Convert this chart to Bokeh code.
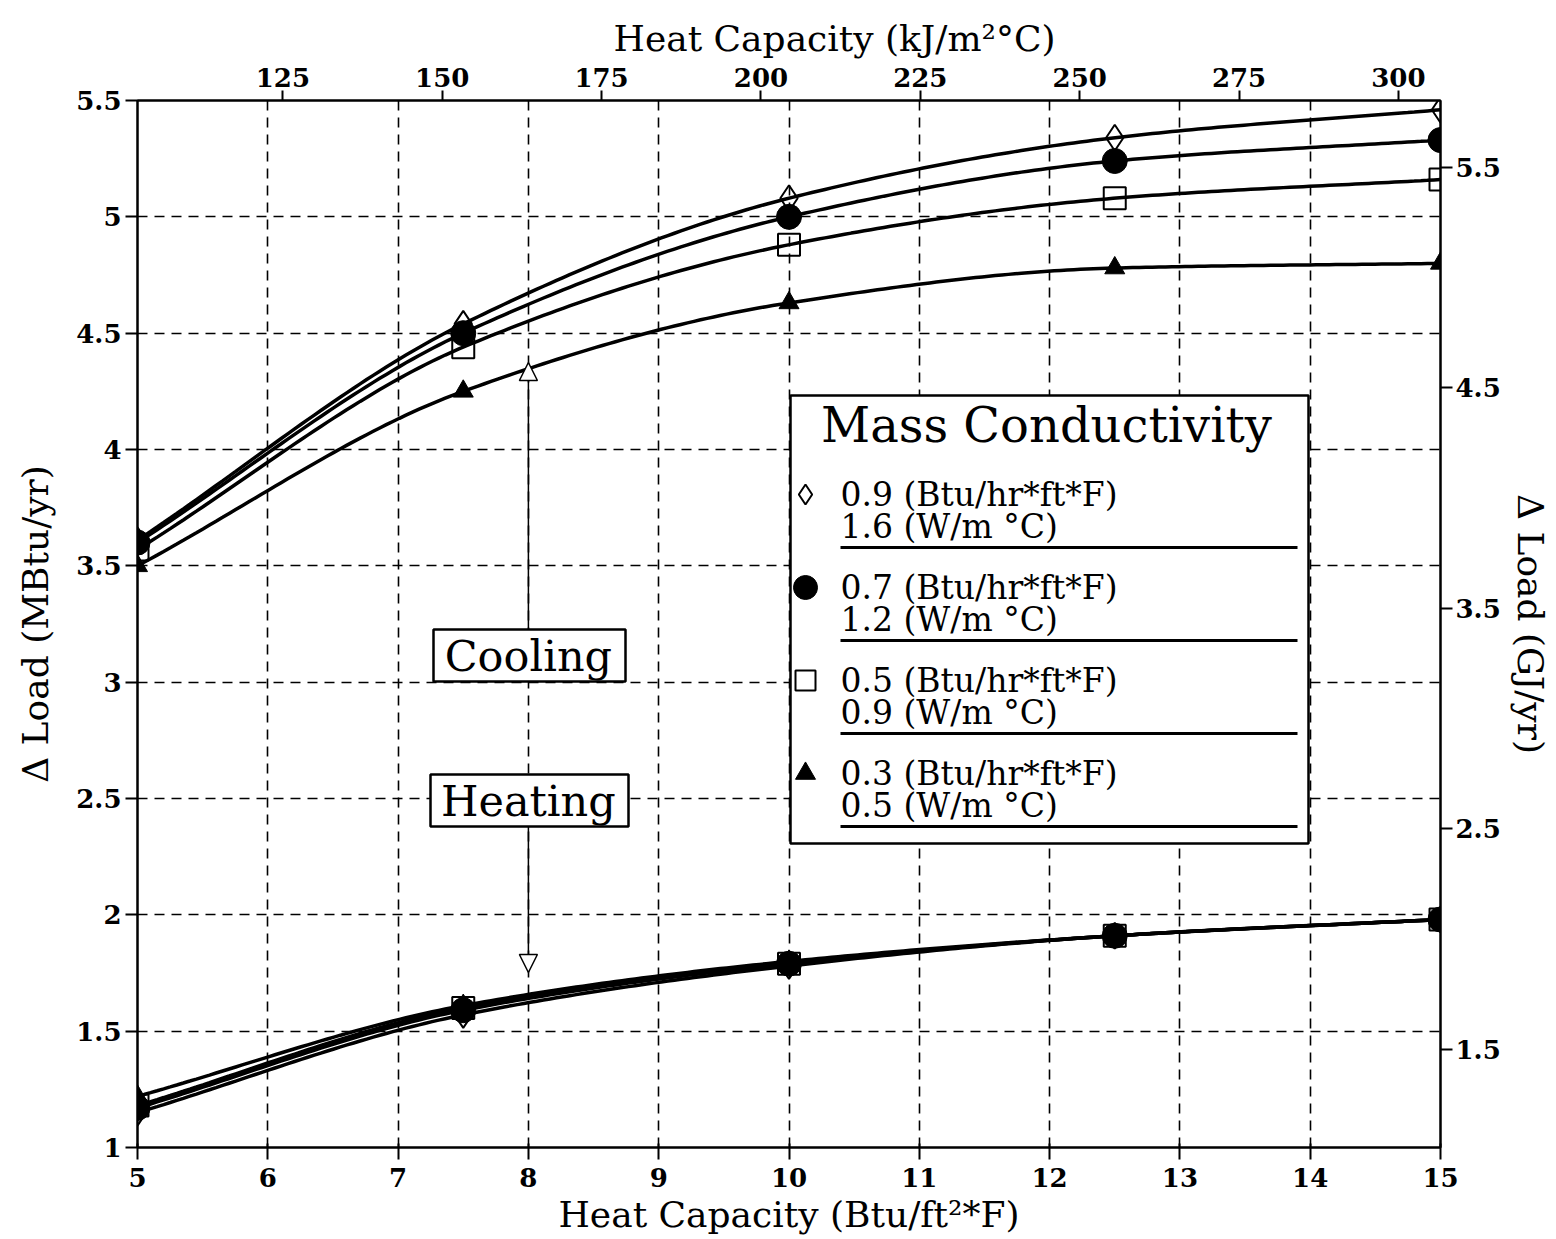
import numpy as np
from bokeh.plotting import figure
from bokeh.models import (Range1d, LinearAxis, FixedTicker, BoxAnnotation, Label,
                          Arrow, NormalHead, Title)
from bokeh.embed import file_html
from bokeh.resources import INLINE

# ---------------- data ----------------
heat_cap = [5, 7.5, 10, 12.5, 15]          # Btu/ft2*F
series_names = ["0.9", "0.7", "0.5", "0.3"]
series_si = ["1.6", "1.2", "0.9", "0.5"]
cool_09 = [3.61, 4.54, 5.08, 5.34, 5.46]
cool_07 = [3.60, 4.50, 5.00, 5.24, 5.33]
cool_05 = [3.57, 4.44, 4.88, 5.08, 5.16]
cool_03 = [3.50, 4.25, 4.63, 4.78, 4.80]
heat_09 = [1.15, 1.57, 1.78, 1.91, 1.98]
heat_07 = [1.17, 1.59, 1.79, 1.91, 1.98]
heat_05 = [1.18, 1.60, 1.79, 1.91, 1.98]
heat_03 = [1.22, 1.61, 1.80, 1.91, 1.98]

x_ticks = [5, 6, 7, 8, 9, 10, 11, 12, 13, 14, 15]
y_ticks = [1, 1.5, 2, 2.5, 3, 3.5, 4, 4.5, 5, 5.5]
y_tick_labels = ["1", "1.5", "2", "2.5", "3", "3.5", "4", "4.5", "5", "5.5"]
top_ticks = [125, 150, 175, 200, 225, 250, 275, 300]
right_ticks = [1.5, 2.5, 3.5, 4.5, 5.5]
KJ_PER_BTUFT2F = 20.44
GJ_PER_MBTU = 1.055

# ---------------- layout ----------------
W, H = 1556, 1239
FL, FR, FT, FB = 137, 116, 100, 92
XMIN, XMAX, YMIN, YMAX = 5, 15, 1, 5.5
fw, fh = W - FL - FR, H - FT - FB

def px2x(px):
    return XMIN + (px - FL) / fw * (XMAX - XMIN)

def px2y(py):
    return YMAX - (py - FT) / fh * (YMAX - YMIN)

def smooth(xs, ys, n=200):
    """Monotone cubic (Fritsch-Carlson) curve through the data points."""
    xs = np.asarray(xs, float); ys = np.asarray(ys, float)
    h = np.diff(xs); d = np.diff(ys) / h
    m = np.zeros_like(ys)
    m[0], m[-1] = d[0], d[-1]
    for i in range(1, len(xs) - 1):
        if d[i - 1] * d[i] <= 0:
            m[i] = 0
        else:
            w1 = 2 * h[i] + h[i - 1]; w2 = h[i] + 2 * h[i - 1]
            m[i] = (w1 + w2) / (w1 / d[i - 1] + w2 / d[i])
    xf = np.linspace(xs[0], xs[-1], n)
    idx = np.clip(np.searchsorted(xs, xf) - 1, 0, len(xs) - 2)
    t = (xf - xs[idx]) / h[idx]
    h00 = 2 * t**3 - 3 * t**2 + 1; h10 = t**3 - 2 * t**2 + t
    h01 = -2 * t**3 + 3 * t**2; h11 = t**3 - t**2
    yf = h00 * ys[idx] + h10 * h[idx] * m[idx] + h01 * ys[idx + 1] + h11 * h[idx] * m[idx + 1]
    return xf, yf

SERIF = "DejaVu Serif"

p = figure(width=W, height=H, output_backend="svg", toolbar_location=None,
           x_range=Range1d(XMIN, XMAX), y_range=Range1d(YMIN, YMAX),
           min_border_left=FL, min_border_right=FR, min_border_top=FT,
           min_border_bottom=FB, x_axis_location=None, y_axis_location=None)
p.background_fill_color = "white"
p.border_fill_color = "white"
p.outline_line_color = "black"
p.outline_line_width = 2

p.extra_x_ranges = {"si": Range1d(XMIN * KJ_PER_BTUFT2F, XMAX * KJ_PER_BTUFT2F)}
p.extra_y_ranges = {"gj": Range1d(YMIN * GJ_PER_MBTU, YMAX * GJ_PER_MBTU)}

def style_axis(ax, tin, tout, standoff, label_standoff):
    ax.axis_line_color = "black"
    ax.axis_line_width = 2
    ax.major_tick_line_color = "black"
    ax.major_tick_line_width = 2
    ax.major_tick_in = tin
    ax.major_tick_out = tout
    ax.minor_tick_line_color = None
    ax.major_label_text_font = SERIF
    ax.major_label_text_font_style = "bold"
    ax.major_label_text_font_size = "26px"
    ax.major_label_text_color = "black"
    ax.major_label_standoff = standoff
    ax.axis_label_text_font = SERIF
    ax.axis_label_text_font_style = "normal"
    ax.axis_label_text_font_size = "36px"
    ax.axis_label_text_color = "black"
    ax.axis_label_standoff = label_standoff

bottom = LinearAxis(ticker=FixedTicker(ticks=x_ticks),
                    axis_label="Heat Capacity (Btu/ft²*F)")
style_axis(bottom, 4, 12, 8, 4)
p.add_layout(bottom, "below")

left = LinearAxis(ticker=FixedTicker(ticks=y_ticks), axis_label="Δ Load (MBtu/yr)")
left.major_label_overrides = {t: l for t, l in zip(y_ticks, y_tick_labels)}
style_axis(left, 0, 12, 4, 17)
p.add_layout(left, "left")

top = LinearAxis(x_range_name="si", ticker=FixedTicker(ticks=top_ticks))
style_axis(top, 0, 10, 4, 8)
p.add_layout(top, "above")

right = LinearAxis(y_range_name="gj", ticker=FixedTicker(ticks=right_ticks),
                   axis_label="Δ Load (GJ/yr)")
style_axis(right, 0, 12, 3, 6)
p.add_layout(right, "right")

# top axis title sits right of the frame centre in the reference
top_title = Title(text="Heat Capacity (kJ/m²°C)", align="left", offset=476,
                  text_font=SERIF, text_font_size="36px", text_font_style="normal",
                  text_color="black", standoff=11)
p.add_layout(top_title, "above")

for g in (p.xgrid, p.ygrid):
    g.grid_line_color = "black"
    g.grid_line_width = 1.6
    g.grid_line_dash = "10 7"
p.xgrid.ticker = FixedTicker(ticks=x_ticks[1:-1])
p.ygrid.ticker = FixedTicker(ticks=y_ticks[1:-1])

# ---------------- boxes (under glyphs, over grid) ----------------
def white_box(l, r, t, b):
    return BoxAnnotation(left=px2x(l), right=px2x(r), top=px2y(t), bottom=px2y(b),
                         fill_color="white", fill_alpha=1, line_color="black",
                         line_alpha=1, line_width=2.5, level="underlay")

p.add_layout(white_box(790, 1308, 395, 843))
p.add_layout(white_box(433, 625, 629, 681))
p.add_layout(white_box(430, 628, 774, 826))

# ---------------- curves ----------------
cool_all = [cool_09, cool_07, cool_05, cool_03]
heat_all = [heat_09, heat_07, heat_05, heat_03]
for ys in cool_all + heat_all:
    xf, yf = smooth(heat_cap, ys)
    p.line(xf, yf, line_color="black", line_width=3.5)

markers = [
    dict(marker="diamond", size=26, fill_alpha=0, line_width=2),
    dict(marker="circle", size=25, fill_color="black", line_width=1),
    dict(marker="square", size=22, fill_alpha=0, line_width=2),
    dict(marker="triangle", size=20, fill_color="black", line_width=1),
]
for cs, hs, mk in zip(cool_all, heat_all, markers):
    p.scatter(heat_cap, cs, line_color="black", **mk)
    p.scatter(heat_cap, hs, line_color="black", **mk)

# ---------------- legend ----------------
p.add_layout(Label(x=px2x(1046), y=px2y(424), text="Mass Conductivity",
                   text_font=SERIF, text_font_size="48px", text_align="center",
                   text_baseline="middle", text_color="black"))
legend_rows = [494, 587, 680, 773]
leg_markers = [
    dict(marker="diamond", size=20, fill_alpha=0, line_width=2),
    dict(marker="circle", size=24, fill_color="black", line_width=1),
    dict(marker="square", size=20, fill_alpha=0, line_width=2),
    dict(marker="triangle", size=20, fill_color="black", line_width=1),
]
for row, name, si, mk in zip(legend_rows, series_names, series_si, leg_markers):
    p.scatter([px2x(805)], [px2y(row)], line_color="black", **mk)
    p.add_layout(Label(x=px2x(840), y=px2y(row), text=f"{name} (Btu/hr*ft*F)",
                       text_font=SERIF, text_font_size="33px", text_align="left",
                       text_baseline="middle", text_color="black"))
    p.add_layout(Label(x=px2x(840), y=px2y(row + 32), text=f"{si} (W/m °C)",
                       text_font=SERIF, text_font_size="33px", text_align="left",
                       text_baseline="middle", text_color="black"))
    p.line([px2x(840), px2x(1297)], [px2y(row + 53), px2y(row + 53)],
           line_color="black", line_width=3)

# ---------------- annotations ----------------
p.add_layout(Label(x=8, y=px2y(655), text="Cooling", text_font=SERIF,
                   text_font_size="43px", text_align="center",
                   text_baseline="middle", text_color="black"))
p.add_layout(Label(x=8, y=px2y(800), text="Heating", text_font=SERIF,
                   text_font_size="43px", text_align="center",
                   text_baseline="middle", text_color="black"))
p.add_layout(Arrow(end=NormalHead(size=18, fill_color="white", line_color="black",
                                  line_width=1.5),
                   x_start=8, y_start=px2y(629), x_end=8, y_end=px2y(362),
                   line_color="black", line_width=1.5))
p.add_layout(Arrow(end=NormalHead(size=18, fill_color="white", line_color="black",
                                  line_width=1.5),
                   x_start=8, y_start=px2y(826), x_end=8, y_end=px2y(972),
                   line_color="black", line_width=1.5))

open("out.html", "w").write(file_html(p, INLINE))
